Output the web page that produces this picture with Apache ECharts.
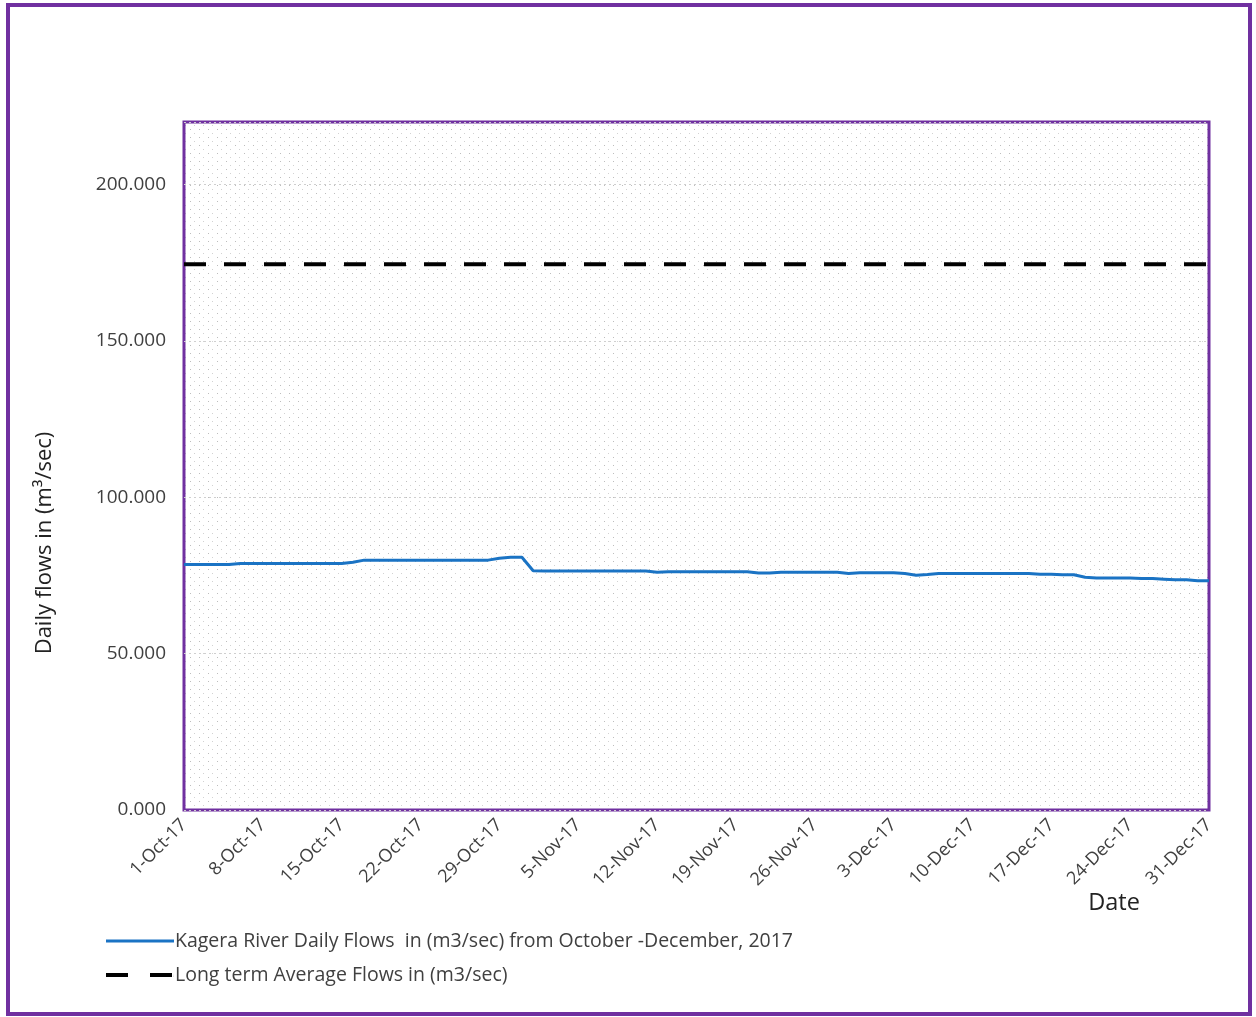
<!DOCTYPE html>
<html><head><meta charset="utf-8">
<script src="https://cdn.jsdelivr.net/npm/echarts@6/dist/echarts.min.js"></script>
<style>html,body{margin:0;padding:0;background:#fff}#c{width:1256px;height:1017px}</style>
</head><body><div id="c"></div>
<script>
// Data
const startDate = [2017, 9, 1]; // 1-Oct-2017
const monthNames = ['Jan','Feb','Mar','Apr','May','Jun','Jul','Aug','Sep','Oct','Nov','Dec'];
const dailyFlows = [
  78.5,78.5,78.5,78.5,78.5,78.8,78.8,78.8,78.8,78.8,
  78.8,78.8,78.8,78.8,78.8,79.2,79.9,79.9,79.9,79.9,
  79.9,79.9,79.9,79.9,79.9,79.9,79.9,79.9,80.5,80.8,
  80.8,76.5,76.4,76.4,76.4,76.4,76.4,76.4,76.4,76.4,
  76.4,76.4,76.0,76.2,76.2,76.2,76.2,76.2,76.2,76.2,
  76.2,75.8,75.8,76.0,76.0,76.0,76.0,76.0,76.0,75.6,
  75.9,75.9,75.9,75.9,75.6,75.1,75.3,75.6,75.6,75.6,
  75.6,75.6,75.6,75.6,75.6,75.6,75.4,75.4,75.2,75.2,
  74.4,74.2,74.2,74.2,74.2,74.0,74.0,73.8,73.6,73.6,
  73.3,73.3
];
const longTermAverage = 174.5;
const yTicks = [0, 50, 100, 150, 200];
const seriesNames = ['Kagera River Daily Flows  in (m3/sec) from October -December, 2017', 'Long term Average Flows in (m3/sec)'];

const categories = [];
for (let i = 0; i < dailyFlows.length; i++) {
  const d = new Date(startDate[0], startDate[1], startDate[2] + i);
  categories.push(d.getDate() + '-' + monthNames[d.getMonth()] + '-' + String(d.getFullYear()).slice(2));
}
const avgLine = categories.map(() => longTermAverage);

// dotted pattern for plot background
const pc = document.createElement('canvas');
pc.width = 9; pc.height = 8;
const pctx = pc.getContext('2d');
pctx.fillStyle = '#ffffff'; pctx.fillRect(0,0,9,8);
pctx.fillStyle = '#bdbdbd';
pctx.fillRect(1,1,1,1);
pctx.fillStyle = '#d2d2d2';
pctx.fillRect(5,5,1,1);

const font = '"Open Sans", Lato, sans-serif';
const chart = echarts.init(document.getElementById('c'), null, {renderer:'canvas'});
chart.setOption({
  animation: false,
  backgroundColor: '#ffffff',
  grid: {left: 184, top: 122, right: 47, bottom: 207, show: true,
         borderColor: '#7030A0', borderWidth: 3,
         backgroundColor: {image: pc, repeat: 'repeat'}},
  xAxis: {
    type: 'category', data: categories, boundaryGap: false,
    axisLine: {show: false}, axisTick: {show: false},
    axisLabel: {interval: 6, rotate: 45, color: '#404040', fontSize: 18, fontFamily: font, margin: 12,
      padding: [0, 0, 0, 0], showMaxLabel: true},
    splitLine: {show: false}
  },
  yAxis: {
    type: 'value', min: 0, max: 220, interval: 50,
    axisLine: {show: false}, axisTick: {show: false},
    axisLabel: {color: '#404040', fontSize: 19, fontFamily: font, margin: 18,
      formatter: v => (yTicks.indexOf(v) >= 0 ? v.toFixed(3) : '')},
    splitLine: {show: true, lineStyle: {color: '#cfcfcf', type: [2, 3], width: 1}}
  },
  legend: {
    orient: 'vertical', left: 101, top: 926, itemGap: 14, itemWidth: 68, itemHeight: 10,
    textStyle: {color: '#404040', fontSize: 19.5, fontFamily: font, padding: [0,0,0,-4]},
    data: [
      {name: seriesNames[0], icon: 'path://M0,3.5 L68,3.5 L68,6.5 L0,6.5 Z', itemStyle: {color: '#1a73c4'}},
      {name: seriesNames[1], icon: 'path://M0,3 L22,3 L22,7 L0,7 Z M44,3 L66,3 L66,7 L44,7 Z M68,3 L68,7 L67.9,7 Z', itemStyle: {color: '#000'}}
    ]
  },
  graphic: [
    {type: 'rect', shape: {x: 8, y: 5, width: 1242, height: 1009}, style: {fill: 'none', stroke: '#7030A0', lineWidth: 4}, z: 100},
    {type: 'text', x: 45, y: 543, rotation: Math.PI / 2, style: {text: 'Daily flows in (m³/sec)', fill: '#222', font: '22px ' + font, align: 'center', verticalAlign: 'middle'}},
    {type: 'text', x: 1114, y: 903, style: {text: 'Date', fill: '#222', font: '23.5px ' + font, align: 'center', verticalAlign: 'middle'}}
  ],
  series: [
    {name: seriesNames[0], type: 'line', data: dailyFlows, showSymbol: false, symbol: 'none',
     lineStyle: {color: '#1a73c4', width: 3}, itemStyle: {color: '#1a73c4'}},
    {name: seriesNames[1], type: 'line', data: avgLine, showSymbol: false, symbol: 'none',
     lineStyle: {color: '#000', width: 4, type: [22, 18]}, itemStyle: {color: '#000'}}
  ]
});
</script></body></html>
